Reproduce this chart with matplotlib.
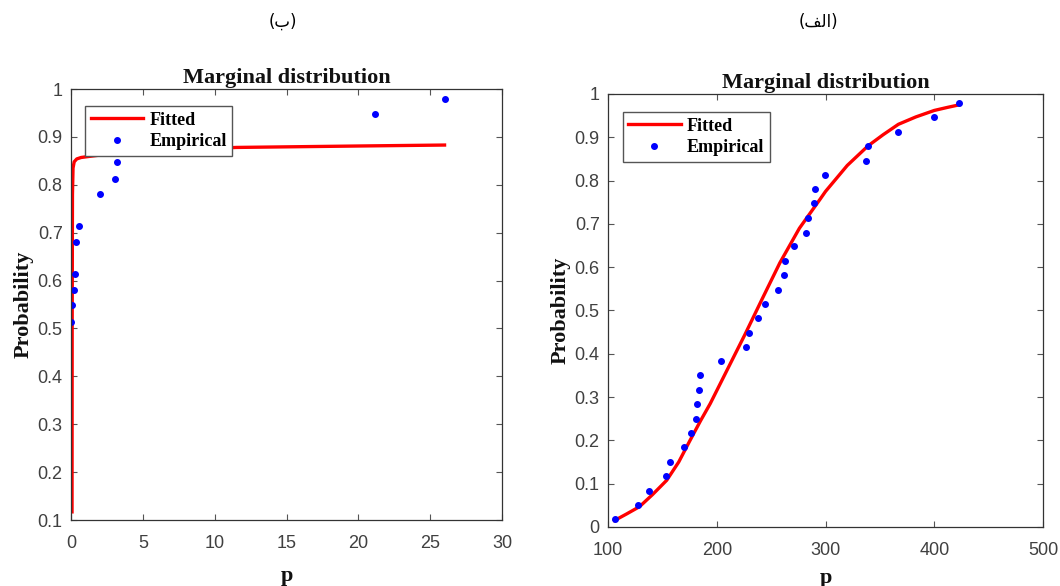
import matplotlib
matplotlib.use("Agg")
import matplotlib.pyplot as plt

# ---- data: left panel (ب) ----
left_fit_p = [0.07, 0.08, 0.1, 0.14, 0.22, 0.4, 0.7, 1.2, 2.0, 5.0, 11.5, 20.0, 26.0]
left_fit_prob = [0.117, 0.50, 0.78, 0.835, 0.848, 0.854, 0.857, 0.859, 0.862, 0.869, 0.878, 0.881, 0.883]
left_emp_p = [0.0, 0.07, 0.19, 0.30, 0.37, 0.53, 2.0, 3.09, 3.2, 21.13, 26.04]
left_emp_prob = [0.514, 0.548, 0.581, 0.613, 0.681, 0.714, 0.781, 0.813, 0.847, 0.947, 0.980]

# ---- data: right panel (الف) ----
right_fit_p = [106, 117, 129, 141, 154, 165, 175, 185, 194, 203, 214, 226, 242, 258, 276, 295,
               300, 320, 339, 353, 367, 383, 400, 412, 423]
right_fit_prob = [0.015, 0.03, 0.047, 0.075, 0.108, 0.15, 0.198, 0.245, 0.285, 0.33, 0.385, 0.445,
                  0.528, 0.61, 0.69, 0.757, 0.775, 0.835, 0.88, 0.906, 0.93, 0.947, 0.962, 0.969, 0.975]
right_emp_p = [106, 128, 138, 153, 157, 170, 176, 181, 182, 183.5, 184.5, 204, 227, 230, 237.5,
               244, 256.5, 262, 263, 271, 282.5, 284, 289, 290, 299.5, 337, 339, 367, 400, 423]
right_emp_prob = [0.0185, 0.0516, 0.084, 0.117, 0.150, 0.184, 0.217, 0.250, 0.284, 0.316, 0.350, 0.383,
                  0.416, 0.448, 0.482, 0.515, 0.548, 0.581, 0.614, 0.648, 0.680, 0.714, 0.748, 0.780,
                  0.812, 0.846, 0.879, 0.913, 0.946, 0.979]

left_xticks = [0, 5, 10, 15, 20, 25, 30]
left_yticks = [0.1, 0.2, 0.3, 0.4, 0.5, 0.6, 0.7, 0.8, 0.9, 1.0]
left_yticklabels = ["0.1", "0.2", "0.3", "0.4", "0.5", "0.6", "0.7", "0.8", "0.9", "1"]
right_xticks = [100, 200, 300, 400, 500]
right_yticks = [0, 0.1, 0.2, 0.3, 0.4, 0.5, 0.6, 0.7, 0.8, 0.9, 1.0]
right_yticklabels = ["0", "0.1", "0.2", "0.3", "0.4", "0.5", "0.6", "0.7", "0.8", "0.9", "1"]

title_text = "Marginal distribution"
ylabel_text = "Probability"
xlabel_text = "p"
# Persian panel labels, in presentation forms (visual order) so they render joined
label_b = "(\uFE8F)"                     # (ب)
label_alef = "(\uFED2\uFEDF\uFE8D)"      # (الف)

serif = "Liberation Serif"
sans = "Liberation Sans"
tick_color = "#404040"

fig = plt.figure(figsize=(10.6, 5.86), dpi=100)
fig.patch.set_facecolor("white")

def style_axes(ax, xlim, ylim, xticks, yticks, yticklabels, xlabelpad):
    ax.set_xlim(*xlim)
    ax.set_ylim(*ylim)
    ax.set_xticks(xticks)
    ax.set_xticklabels([str(t) for t in xticks])
    ax.set_yticks(yticks)
    ax.set_yticklabels(yticklabels)
    ax.tick_params(direction="in", length=4, width=0.8, top=True, right=True,
                   colors="#555555", labelcolor=tick_color, labelsize=13)
    ax.tick_params(axis="x", pad=11)
    ax.tick_params(axis="y", pad=6)
    for lab in ax.get_xticklabels() + ax.get_yticklabels():
        lab.set_fontfamily(sans)
    for sp in ax.spines.values():
        sp.set_color("#333333")
        sp.set_linewidth(0.9)
    ax.set_title(title_text, fontfamily=serif, fontweight="bold", fontsize=16, pad=4, color="#111111")
    ax.set_ylabel(ylabel_text, fontfamily=serif, fontweight="bold", fontsize=16, color="#111111", labelpad=3)
    ax.set_xlabel(xlabel_text, fontfamily=serif, fontweight="bold", fontsize=16, color="#111111",
                  labelpad=xlabelpad)

def add_legend(ax, anchor):
    leg = ax.legend(loc="upper left", bbox_to_anchor=anchor, frameon=True, fancybox=False,
                    prop={"family": serif, "weight": "bold", "size": 13},
                    handlelength=2.9, handletextpad=0.35, borderpad=0.3, labelspacing=0.25,
                    borderaxespad=0.0)
    leg.get_frame().set_edgecolor("#555555")
    leg.get_frame().set_linewidth(1.0)
    leg.get_frame().set_alpha(1.0)
    return leg

# ---- left panel ----
axL = fig.add_axes([0.067, 0.1126, 0.4066, 0.7355])
axL.plot(left_fit_p, left_fit_prob, color="red", lw=2.4, label="Fitted", solid_joinstyle="round")
axL.plot(left_emp_p, left_emp_prob, ".", color="blue", ms=8, label="Empirical")
style_axes(axL, (0, 30), (0.1, 1.0), left_xticks, left_yticks, left_yticklabels, 10)
add_legend(axL, (0.033, 0.96))

# ---- right panel ----
axR = fig.add_axes([0.5736, 0.1007, 0.4104, 0.7389])
axR.plot(right_fit_p, right_fit_prob, color="red", lw=2.4, label="Fitted", solid_joinstyle="round")
axR.plot(right_emp_p, right_emp_prob, ".", color="blue", ms=8, label="Empirical")
style_axes(axR, (100, 500), (0, 1.0), right_xticks, right_yticks, right_yticklabels, 6)
add_legend(axR, (0.034, 0.958))

# ---- Persian panel labels ----
fig.text(283 / 1060, 1 - 22 / 586, label_b, ha="center", va="center",
         fontsize=12, family=["DejaVu Sans"], color="black")
fig.text(818 / 1060, 1 - 22 / 586, label_alef, ha="center", va="center",
         fontsize=12, family=["DejaVu Sans"], color="black")

fig.savefig("out.png", dpi=100, facecolor="white")
